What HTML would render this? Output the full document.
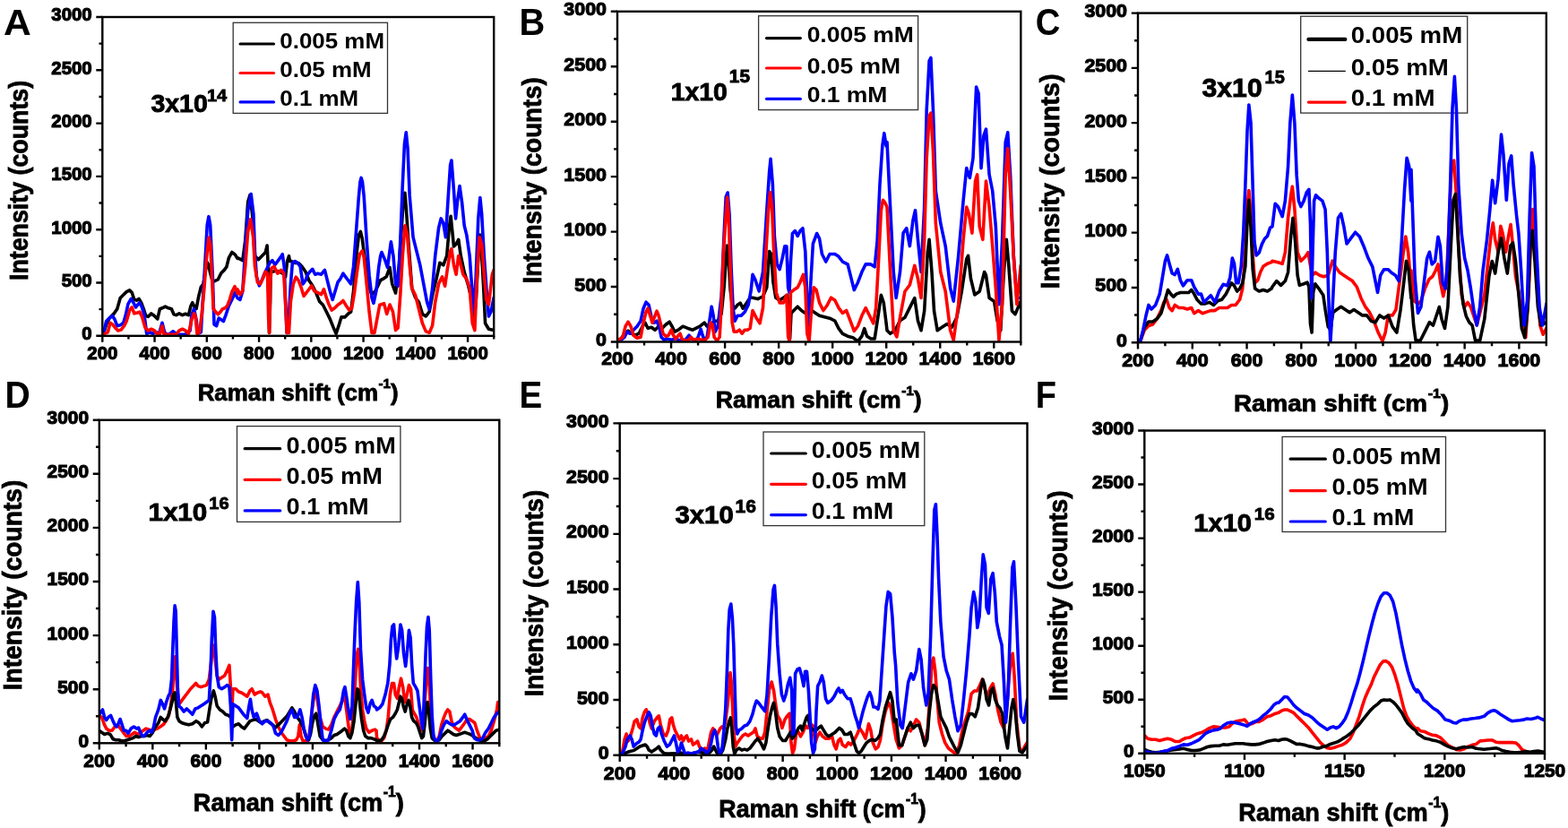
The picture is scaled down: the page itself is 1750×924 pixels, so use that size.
<!DOCTYPE html>
<html><head><meta charset="utf-8"><title>Raman spectra</title>
<style>html,body{margin:0;padding:0;background:#fff;}svg{display:block;}</style></head>
<body><svg width="1750" height="924" viewBox="0 0 1750 924" font-family="Liberation Sans, Arial, sans-serif" font-weight="bold" fill="#000">
<defs><clipPath id="clipA"><rect x="114.3" y="19" width="436.9" height="355.8"/></clipPath><clipPath id="clipB"><rect x="689" y="12.8" width="450.3" height="368.7"/></clipPath><clipPath id="clipC"><rect x="1270" y="14.6" width="455.8" height="367.6"/></clipPath><clipPath id="clipD"><rect x="110.8" y="468.7" width="446.5" height="360.6"/></clipPath><clipPath id="clipE"><rect x="691.7" y="472.4" width="454.8" height="370.3"/></clipPath><clipPath id="clipF"><rect x="1277.3" y="480.5" width="446.7" height="360.3"/></clipPath></defs>
<rect width="1750" height="924" fill="#fff"/>
<rect x="260.2" y="25.3" width="172.3" height="101.1" fill="none" stroke="#333" stroke-width="1.3"/>
<line x1="268.1" y1="49" x2="305.5" y2="49" stroke="#000" stroke-width="3.2" stroke-linecap="round"/>
<line x1="268.1" y1="81.5" x2="305.5" y2="81.5" stroke="#ff0000" stroke-width="3.2" stroke-linecap="round"/>
<line x1="268.1" y1="113.9" x2="305.5" y2="113.9" stroke="#0000ff" stroke-width="3.2" stroke-linecap="round"/>
<text transform="translate(312.26,54.05) scale(1.0554,1)" font-size="24.58">0.005 mM</text>
<text transform="translate(312.26,86.25) scale(1.0554,1)" font-size="24.58">0.05 mM</text>
<text transform="translate(312.26,118.25) scale(1.0554,1)" font-size="24.58">0.1 mM</text>
<text transform="translate(168.45,125.19) scale(1.0093,1)" font-size="28.21" stroke="#000" stroke-width="0.9">3x10</text>
<text transform="translate(230.93,112.6) scale(1.0484,1)" font-size="19.19" stroke="#000" stroke-width="0.8">14</text>
<g clip-path="url(#clipA)" fill="none" stroke-width="3.6" stroke-linejoin="round" stroke-linecap="round">
<polyline stroke="#000" points="115.19,373.25 118.66,361.99 122.12,355.06 127.32,349.87 130.78,344.68 134.24,332.55 137.71,329.09 141.17,325.63 144.63,323.9 147.23,326.49 149.83,334.29 152.42,335.15 155.02,333.42 157.62,337.75 160.22,344.68 162.81,352.47 165.41,353.33 168.87,349.87 172.34,352.47 175.8,355.93 178.4,344.68 181,343.81 184.46,342.08 187.92,343.81 191.39,344.68 193.98,350.74 196.58,351.6 200.04,349.87 203.51,351.6 206.97,350.22 210.43,351.6 213.03,341.21 214.76,337.75 216.49,341.21 219.09,344.68 221.69,330.82 224.29,320.43 226.88,316.97 229.48,301.39 231.21,292.73 232.94,296.19 234.68,304.85 237.27,314.37 239.87,313.51 243.33,311.77 246.8,304.85 250.26,301.39 252.86,297.92 255.45,287.53 258.92,281.47 262.38,284.07 264.98,288.4 265,287.67 268.9,289.62 270.84,290.59 273.77,268.19 276.69,225.33 279.03,217.53 281.56,238.96 284.48,285.72 288.38,289.62 292.27,285.72 296.17,281.82 298.12,274.03 299.29,297.41 300.46,371.44 301.63,336.37 302.02,301.31 303.96,303.25 307.86,302.28 311.76,303.25 315.65,305.2 318.57,309.1 320.52,291.56 322.47,285.72 323.45,291.56 325.39,291.56 329.29,293.51 333.19,293.51 337.08,297.41 340.98,303.25 344.88,312.99 348.77,318.84 352.67,326.63 356.56,336.37 360.46,340.27 364.36,348.06 368.25,355.85 372.15,365.6 375.07,372.41 377.99,363.65 380.92,353.91 384.81,353.91 388.71,350.01 391.63,348.06 394.55,324.68 397.48,287.67 400.4,262.34 402.35,258.45 404.29,266.24 406.24,281.82 409.17,303.25 412.09,320.79 415.01,328.58 418.91,324.68 421.83,318.84 424.68,312.73 427.27,311.43 431.17,308.83 435.06,298.44 437.66,316.62 441.56,327.01 445.45,295.84 448.05,256.88 450.65,217.92 451.95,215.32 453.25,230.91 455.84,269.87 459.74,321.82 463.64,332.21 467.53,337.4 471.43,350.39 475.32,352.99 479.22,347.79 483.12,327.01 487.01,311.43 490.91,293.25 494.81,295.84 498.7,285.45 501.3,254.29 503.12,241.3 504.68,256.88 506.49,275.06 509.09,272.47 511.69,267.27 514.29,285.45 518.18,303.64 522.08,316.62 525.97,332.21 528.57,358.18 531.17,337.4 533.77,288.05 535.84,262.08 537.66,285.45 539.74,321.82 541.56,360.78 545.45,367.27 551.17,368.57"/>
<polyline stroke="#0000ff" points="115.19,373.25 118.66,358.53 122.12,355.06 125.58,352.47 128.18,356.8 130.78,363.72 134.24,362.86 137.71,360.26 140.3,351.6 142.9,339.48 146.36,333.42 148.96,337.75 151.56,342.94 154.16,339.48 155.89,337.75 158.48,342.94 161.08,351.6 163.68,372.38 167.14,370.65 170.61,372.38 174.07,370.65 177.53,372.38 181,360.26 183.59,370.65 186.19,373.25 189.65,372.38 193.12,369.78 196.58,372.38 200.04,373.25 206.97,373.25 212.16,368.92 213.9,351.6 216.49,344.68 219.09,356.8 220.82,372.38 224.29,370.65 226.02,341.21 228.61,297.92 231.21,251.17 232.94,241.65 234.68,251.17 237.27,306.58 239,361.99 241.6,363.72 244.2,355.06 246.8,356.8 249.39,358.53 251.99,351.6 255.45,341.21 258.92,334.29 262.38,326.49 265,332.48 267.92,334.42 270.84,324.68 273.77,277.93 276.69,235.07 280.2,216.56 282.92,238.96 284.48,281.82 286.43,309.1 289.35,318.84 292.27,312.99 295.2,305.2 298.12,299.36 301.04,293.51 303.96,290.59 306.89,295.46 309.81,291.56 312.73,287.67 315.26,283.77 317.21,297.41 318.57,336.37 320.13,371.44 322.47,351.96 324.42,316.89 326.37,293.51 329.29,291.56 332.21,293.51 335.13,297.41 338.06,316.89 340.98,312.99 342.93,307.15 345.85,303.25 348.77,300.33 351.69,306.18 354.62,305.2 358.51,306.18 362.41,301.31 365.33,312.99 368.25,324.68 371.18,334.42 374.1,324.68 377.02,314.94 379.94,311.05 382.86,305.2 385.79,309.1 388.71,312.99 391.63,316.89 394.55,297.41 397.48,258.45 400.4,219.48 401.96,202.92 403.13,198.44 404.49,202.92 406.24,219.48 409.17,268.19 412.09,307.15 415.01,332.48 416.96,338.32 419.88,324.68 422.8,297.41 424.68,285.45 425.97,281.56 429.87,290.65 432.47,298.44 436.36,269.87 438.96,285.45 441.56,316.62 444.16,319.22 446.75,269.87 449.35,204.94 451.43,160.78 453.25,147.79 455.06,165.97 457.14,217.92 461.04,264.68 464.94,280.26 468.83,295.84 472.73,316.62 476.62,337.4 479.22,345.19 482.6,321.82 485.71,285.45 489.61,254.29 492.21,243.9 494.81,249.09 497.4,264.68 500,223.12 502.6,184.16 503.9,178.96 506.49,212.73 508.57,243.9 510.39,225.71 512.99,207.53 515.58,225.71 518.18,251.69 520.78,262.08 524.16,285.45 526.75,321.82 528.83,347.79 531.17,308.83 533.77,243.9 535.84,220.52 537.66,238.7 540.26,285.45 542.86,321.82 545.45,352.99 548.05,347.79 551.17,332.21"/>
<polyline stroke="#ff0000" points="115.19,373.25 120.39,370.65 122.99,360.26 125.58,361.99 129.05,366.32 131.65,368.92 135.11,368.05 138.57,363.72 141.17,358.53 144.63,346.41 147.23,342.94 149.83,349.87 153.29,349 155.89,348.14 158.48,353.33 161.95,365.45 165.41,368.92 168.87,367.19 172.34,368.92 174.94,372.38 178.4,372.38 181,363.72 182.73,372.38 186.19,373.25 196.58,373.25 200.04,368.92 203.51,367.19 206.97,368.92 210.43,372.38 213.9,356.8 216.49,349.87 218.23,353.33 219.96,372.38 222.55,370.65 225.15,351.6 227.75,323.9 230.35,289.26 232.94,265.02 234.68,271.95 236.41,306.58 238.14,344.68 240.74,348.14 243.33,350.74 245.93,348.14 248.53,344.68 251.13,343.81 253.72,341.21 256.32,334.29 258.92,325.63 262.03,319.57 264.98,327.36 265,322.74 267.92,328.58 270.84,324.68 273.77,297.41 276.69,258.45 279.61,244.81 282.53,264.29 284.48,297.41 287.4,314.94 290.33,316.89 293.25,311.05 296.17,303.25 298.51,305.2 299.68,355.85 300.65,371.44 301.63,316.89 302.99,299.36 305.91,297.41 309.81,305.2 313.7,301.31 316.63,305.2 318.57,336.37 320.13,371.44 322.47,371.44 324.42,336.37 327.34,316.89 330.26,309.1 333.19,312.99 336.11,320.79 339.03,330.53 341.95,326.63 344.88,322.74 347.8,318.84 350.72,324.68 354.62,326.63 358.51,328.58 361.43,322.74 364.36,332.48 367.28,340.27 370.2,346.11 374.1,343.19 377.02,340.27 379.94,338.32 382.86,335.4 385.79,340.27 389.68,346.11 392.61,344.17 395.53,326.63 398.45,303.25 401.37,283.77 404.29,279.88 406.24,287.67 409.17,316.89 412.09,348.06 415.01,371.44 417.93,371.44 420.85,355.85 423.78,340.27 424.68,340 428.57,338.7 431.69,350.39 435.06,340 438.44,347.79 441.56,368.57 444.16,365.97 446.75,329.61 449.35,285.45 451.95,251.69 454.55,262.08 457.14,295.84 459.74,321.82 463.64,329.61 467.53,345.19 471.43,360.78 475.32,369.87 479.22,371.17 482.6,363.38 485.71,337.4 489.61,316.62 493.51,308.83 496.62,319.22 499.22,301.04 502.6,280.26 503.9,277.66 506.49,295.84 509.09,306.23 511.69,285.45 514.29,295.84 516.88,306.23 520.78,311.43 524.16,321.82 527.27,360.78 529.87,368.57 532.47,306.23 535.06,264.68 537.66,272.47 540.26,306.23 542.86,334.81 545.45,340 549.35,306.23 551.17,301.04"/>
</g>
<rect x="114.3" y="19" width="436.9" height="355.8" fill="none" stroke="#000" stroke-width="2.4"/>
<path d="M114.3,374.8v7 M172.55,374.8v7 M230.81,374.8v7 M289.06,374.8v7 M347.31,374.8v7 M405.57,374.8v7 M463.82,374.8v7 M522.07,374.8v7 M143.43,374.8v3.8 M201.68,374.8v3.8 M259.93,374.8v3.8 M318.19,374.8v3.8 M376.44,374.8v3.8 M434.69,374.8v3.8 M492.95,374.8v3.8 M551.2,374.8v3.8 M114.3,374.8h-7 M114.3,315.5h-7 M114.3,256.2h-7 M114.3,196.9h-7 M114.3,137.6h-7 M114.3,78.3h-7 M114.3,19h-7 M114.3,345.15h-3.8 M114.3,285.85h-3.8 M114.3,226.55h-3.8 M114.3,167.25h-3.8 M114.3,107.95h-3.8 M114.3,48.65h-3.8" stroke="#000" stroke-width="2.4" fill="none"/>
<text transform="translate(114.3,401.1) scale(1.02,1)" font-size="20" text-anchor="middle" stroke="#000" stroke-width="1.1">200</text>
<text transform="translate(172.55,401.1) scale(1.02,1)" font-size="20" text-anchor="middle" stroke="#000" stroke-width="1.1">400</text>
<text transform="translate(230.81,401.1) scale(1.02,1)" font-size="20" text-anchor="middle" stroke="#000" stroke-width="1.1">600</text>
<text transform="translate(289.06,401.1) scale(1.02,1)" font-size="20" text-anchor="middle" stroke="#000" stroke-width="1.1">800</text>
<text transform="translate(347.31,401.1) scale(1.02,1)" font-size="20" text-anchor="middle" stroke="#000" stroke-width="1.1">1000</text>
<text transform="translate(405.57,401.1) scale(1.02,1)" font-size="20" text-anchor="middle" stroke="#000" stroke-width="1.1">1200</text>
<text transform="translate(463.82,401.1) scale(1.02,1)" font-size="20" text-anchor="middle" stroke="#000" stroke-width="1.1">1400</text>
<text transform="translate(522.07,401.1) scale(1.02,1)" font-size="20" text-anchor="middle" stroke="#000" stroke-width="1.1">1600</text>
<text transform="translate(102.7,379.2) scale(1.02,1)" font-size="20" text-anchor="end" stroke="#000" stroke-width="1.1">0</text>
<text transform="translate(102.7,319.9) scale(1.02,1)" font-size="20" text-anchor="end" stroke="#000" stroke-width="1.1">500</text>
<text transform="translate(102.7,260.6) scale(1.02,1)" font-size="20" text-anchor="end" stroke="#000" stroke-width="1.1">1000</text>
<text transform="translate(102.7,201.3) scale(1.02,1)" font-size="20" text-anchor="end" stroke="#000" stroke-width="1.1">1500</text>
<text transform="translate(102.7,142) scale(1.02,1)" font-size="20" text-anchor="end" stroke="#000" stroke-width="1.1">2000</text>
<text transform="translate(102.7,82.7) scale(1.02,1)" font-size="20" text-anchor="end" stroke="#000" stroke-width="1.1">2500</text>
<text transform="translate(102.7,23.4) scale(1.02,1)" font-size="20" text-anchor="end" stroke="#000" stroke-width="1.1">3000</text>
<g transform="translate(220.67,446.9) scale(1.0353,1)" stroke="#000" stroke-width="0.8"><text x="0" y="0" font-size="25">Raman shift (cm</text><text x="194.98" y="-14" font-size="14.5">-1</text><text x="207.88" y="0" font-size="25">)</text></g>
<g transform="translate(31.4,311.2) rotate(-90) scale(0.9223,1)" stroke="#000" stroke-width="0.8"><text x="-1.95" y="0" font-size="29.04">Intensity (counts)</text></g>
<text transform="translate(3.93,39.2) scale(1.0253,1)" font-size="41.57">A</text>
<rect x="846.6" y="17.7" width="178" height="104.9" fill="none" stroke="#333" stroke-width="1.3"/>
<line x1="855.5" y1="42.6" x2="893.3" y2="42.6" stroke="#000" stroke-width="3.2" stroke-linecap="round"/>
<line x1="855.5" y1="76" x2="893.3" y2="76" stroke="#ff0000" stroke-width="3.2" stroke-linecap="round"/>
<line x1="855.5" y1="110.3" x2="893.3" y2="110.3" stroke="#0000ff" stroke-width="3.2" stroke-linecap="round"/>
<text transform="translate(900.64,47.35) scale(1.0777,1)" font-size="24.58">0.005 mM</text>
<text transform="translate(900.64,81.55) scale(1.0777,1)" font-size="24.58">0.05 mM</text>
<text transform="translate(900.64,114.25) scale(1.0777,1)" font-size="24.58">0.1 mM</text>
<text transform="translate(748.71,112.12) scale(1.0086,1)" font-size="28.11" stroke="#000" stroke-width="0.9">1x10</text>
<text transform="translate(813.79,92.41) scale(1.0786,1)" font-size="19.34" stroke="#000" stroke-width="0.8">15</text>
<g clip-path="url(#clipB)" fill="none" stroke-width="3.6" stroke-linejoin="round" stroke-linecap="round">
<polyline stroke="#000" points="689,380.22 693.01,378.21 697.01,372.21 701.02,369.2 705.02,372.21 709.03,374.21 713.03,372.21 717.04,364.2 720.04,360.19 723.05,366.2 727.05,365.2 731.06,368.2 735.06,364.2 739.06,366.2 743.07,362.19 747.07,359.19 750.08,364.2 753.08,370.2 757.09,368.2 762.09,364.2 767.1,366.2 773.11,368.2 777.11,366.2 781.12,364.2 786.12,360.19 789.12,364.2 793.13,362.19 797.13,358.19 801.14,358.19 805.14,350.18 808.15,320.14 810.15,290.11 811.55,274.09 813.15,290.11 815.16,324.15 817.16,340.17 820.16,344.17 823.17,340.17 826.17,338.17 829.17,344.17 833.18,338.17 837.18,332.16 840,332.19 845.73,333.62 851.47,330.75 855.77,320.72 858.64,280.57 860.65,283.44 862.94,314.98 865.81,332.19 870.11,335.05 874.41,332.19 878.71,329.32 880.14,349.39 881.58,378.06 883.01,349.39 885.88,346.52 890.18,342.22 894.48,346.52 898.78,349.39 901.65,349.39 905.95,346.52 910.25,349.39 914.55,352.26 920.29,353.69 926.02,355.13 931.76,357.99 936.06,366.59 940.36,372.33 946.09,375.2 951.83,376.63 957.56,380.93 961.86,375.2 964.73,366.59 967.6,375.2 971.9,378.06 976.2,378.06 980.5,349.39 983.37,329.32 986.24,337.92 989.1,360.86 990,368.73 993.62,372.35 999.05,368.73 1004.49,357.86 1009.92,354.24 1015.35,343.37 1020.79,332.51 1024.41,357.86 1028.03,368.73 1031.65,346.99 1035.27,281.8 1037.08,267.31 1039.98,303.53 1042.52,346.99 1046.14,368.73 1051.57,365.1 1057,361.48 1062.44,365.1 1067.87,354.24 1073.3,325.26 1078.74,289.04 1080.55,285.42 1083.44,310.78 1087.79,328.88 1093.22,325.26 1098.66,303.53 1100.47,307.15 1104.09,332.51 1109.52,336.13 1113.14,357.86 1116.77,368.73 1120.39,303.53 1123.29,267.31 1125.82,296.29 1129.44,346.99 1133.06,350.62 1139.22,336.13"/>
<polyline stroke="#0000ff" points="689,380.22 693.01,379.22 697.01,376.21 700.02,370.2 703.02,372.21 707.03,368.2 711.03,364.2 715.04,358.19 718.04,344.17 721.04,337.16 724.05,340.17 727.05,354.19 730.05,360.19 733.06,358.19 736.06,366.2 738.06,376.21 741.07,379.22 745.07,378.21 749.08,379.22 753.08,378.21 757.09,379.22 761.09,380.22 765.1,379.22 769.1,374.21 772.1,378.21 776.11,380.22 779.11,376.21 782.12,367.2 784.12,374.21 786.12,379.22 789.12,376.21 792.13,356.19 794.13,342.17 796.13,352.18 798.14,370.2 801.14,364.2 805.14,330.16 808.15,260.07 810.15,220.02 812.15,215.02 814.15,240.05 816.16,300.12 818.16,344.17 820.16,358.19 823.17,352.18 827.17,352.18 831.18,348.18 835.18,340.17 838.18,324.15 840,306.38 842.87,312.11 847.17,325.02 851.47,303.51 855.77,234.7 858.64,191.68 860.07,177.35 862.37,206.02 864.37,263.37 867.24,294.91 870.11,300.65 872.97,289.18 875.84,274.84 877.85,274.84 879.57,320.72 881,326.45 882.44,292.04 884.44,260.5 887.31,257.63 890.18,263.37 893.05,257.63 895.91,254.77 898.78,280.57 900.79,335.05 902.51,363.73 904.52,320.72 907.38,271.97 911.68,260.5 914.55,266.24 917.42,283.44 921.72,292.04 926.02,283.44 931.76,283.44 936.06,286.31 940.36,292.04 946.09,294.91 950.39,312.11 953.26,323.58 957.56,314.98 961.86,303.51 966.16,294.91 971.9,294.91 976.2,297.78 979.07,269.1 981.94,206.02 984.8,163.01 986.81,148.67 989.1,163.01 990,158.66 993.62,231.09 997.24,303.53 1000.14,332.51 1004.49,303.53 1008.11,260.07 1011.73,254.64 1015.35,274.56 1018.98,245.58 1021.51,234.72 1024.41,267.31 1028.03,303.53 1031.65,231.09 1034.19,122.44 1037.08,68.11 1038.9,64.49 1041.43,122.44 1044.33,212.98 1049.76,249.2 1055.19,274.56 1060.63,321.64 1064.25,336.13 1069.68,285.42 1075.11,223.85 1078.74,187.63 1082.36,198.5 1085.98,176.77 1089.6,97.08 1092.14,104.33 1095.03,187.63 1097.93,151.41 1100.47,144.17 1104.09,194.88 1107.71,212.98 1111.33,252.83 1114.95,339.75 1118.58,267.31 1122.2,158.66 1124.73,147.79 1127.63,194.88 1131.25,285.42 1134.88,332.51 1139.22,332.51"/>
<polyline stroke="#ff0000" points="689,380.22 695.01,376.21 698.02,364.2 701.02,359.19 704.02,364.2 707.03,374.21 711.03,377.21 715.04,376.21 718.04,360.19 721.04,348.18 723.05,344.17 725.05,350.18 728.05,360.19 731.06,352.18 733.06,347.18 735.06,352.18 737.06,360.19 740.07,372.21 743.07,375.21 746.07,374.21 749.08,368.2 751.08,373.21 754.08,378.21 757.09,374.21 759.09,372.21 761.09,378.21 765.1,380.22 769.1,379.22 771.1,376.21 774.11,379.22 779.11,378.21 783.12,379.22 787.12,379.22 790.13,376.21 793.13,360.19 795.13,362.19 797.13,376.21 800.14,380.22 803.14,376.21 805.14,340.17 807.55,280.1 809.55,250.06 811.55,220.02 813.15,240.05 815.16,300.12 817.16,360.19 819.16,370.2 822.16,370.2 825.17,368.2 828.17,372.21 831.18,368.2 834.18,368.2 837.18,366.2 840,346.52 844.3,355.13 848.03,360.86 851.47,343.66 854.34,292.04 857.2,240.43 859.5,214.62 861.51,228.96 863.51,277.71 866.38,326.45 870.11,337.92 874.41,337.92 877.85,329.32 879.57,375.2 881,380.93 882.44,326.45 885.88,323.58 890.18,320.72 893.05,314.98 896.49,306.38 898.78,320.72 900.79,372.33 903.08,380.93 905.38,349.39 908.24,320.72 911.11,323.58 914.55,337.92 918.85,346.52 923.15,340.79 927.46,332.19 931.76,335.05 936.06,343.66 940.36,349.39 944.66,346.52 948.96,357.99 953.26,369.46 957.56,363.73 961.86,352.26 966.16,343.66 970.47,352.26 974.77,360.86 977.63,343.66 980.5,292.04 983.37,234.7 985.38,223.23 987.67,226.09 990,231.09 993.62,303.53 997.24,368.73 1000.87,375.97 1004.49,354.24 1009.92,325.26 1015.35,318.02 1020.79,296.29 1024.41,310.78 1028.03,332.51 1031.65,267.31 1034.19,176.77 1037.08,129.68 1038.9,126.06 1041.43,169.52 1044.33,249.2 1049.76,303.53 1055.19,325.26 1060.63,368.73 1064.25,379.59 1069.68,339.75 1075.11,267.31 1078.74,231.09 1081.27,238.34 1084.89,260.07 1088.52,202.12 1090.69,194.88 1093.22,252.83 1096.85,267.31 1100.47,202.12 1104.09,231.09 1107.71,274.56 1111.33,321.64 1114.95,379.59 1118.58,339.75 1122.2,194.88 1124.73,165.9 1127.63,212.98 1131.25,285.42 1134.88,339.75 1139.22,296.29"/>
</g>
<rect x="689" y="12.8" width="450.3" height="368.7" fill="none" stroke="#000" stroke-width="2.4"/>
<path d="M689,381.5v7.25 M749.04,381.5v7.25 M809.08,381.5v7.25 M869.12,381.5v7.25 M929.16,381.5v7.25 M989.2,381.5v7.25 M1049.24,381.5v7.25 M1109.28,381.5v7.25 M719.02,381.5v3.94 M779.06,381.5v3.94 M839.1,381.5v3.94 M899.14,381.5v3.94 M959.18,381.5v3.94 M1019.22,381.5v3.94 M1079.26,381.5v3.94 M1139.3,381.5v3.94 M689,381.5h-7.25 M689,320.05h-7.25 M689,258.6h-7.25 M689,197.15h-7.25 M689,135.7h-7.25 M689,74.25h-7.25 M689,12.8h-7.25 M689,350.77h-3.94 M689,289.32h-3.94 M689,227.88h-3.94 M689,166.42h-3.94 M689,104.98h-3.94 M689,43.53h-3.94" stroke="#000" stroke-width="2.4" fill="none"/>
<text transform="translate(689,406.95) scale(1.02,1)" font-size="21" text-anchor="middle" stroke="#000" stroke-width="1.1">200</text>
<text transform="translate(749.04,406.95) scale(1.02,1)" font-size="21" text-anchor="middle" stroke="#000" stroke-width="1.1">400</text>
<text transform="translate(809.08,406.95) scale(1.02,1)" font-size="21" text-anchor="middle" stroke="#000" stroke-width="1.1">600</text>
<text transform="translate(869.12,406.95) scale(1.02,1)" font-size="21" text-anchor="middle" stroke="#000" stroke-width="1.1">800</text>
<text transform="translate(929.16,406.95) scale(1.02,1)" font-size="21" text-anchor="middle" stroke="#000" stroke-width="1.1">1000</text>
<text transform="translate(989.2,406.95) scale(1.02,1)" font-size="21" text-anchor="middle" stroke="#000" stroke-width="1.1">1200</text>
<text transform="translate(1049.24,406.95) scale(1.02,1)" font-size="21" text-anchor="middle" stroke="#000" stroke-width="1.1">1400</text>
<text transform="translate(1109.28,406.95) scale(1.02,1)" font-size="21" text-anchor="middle" stroke="#000" stroke-width="1.1">1600</text>
<text transform="translate(676.99,386.07) scale(1.02,1)" font-size="21" text-anchor="end" stroke="#000" stroke-width="1.1">0</text>
<text transform="translate(676.99,324.62) scale(1.02,1)" font-size="21" text-anchor="end" stroke="#000" stroke-width="1.1">500</text>
<text transform="translate(676.99,263.17) scale(1.02,1)" font-size="21" text-anchor="end" stroke="#000" stroke-width="1.1">1000</text>
<text transform="translate(676.99,201.72) scale(1.02,1)" font-size="21" text-anchor="end" stroke="#000" stroke-width="1.1">1500</text>
<text transform="translate(676.99,140.27) scale(1.02,1)" font-size="21" text-anchor="end" stroke="#000" stroke-width="1.1">2000</text>
<text transform="translate(676.99,78.82) scale(1.02,1)" font-size="21" text-anchor="end" stroke="#000" stroke-width="1.1">2500</text>
<text transform="translate(676.99,17.37) scale(1.02,1)" font-size="21" text-anchor="end" stroke="#000" stroke-width="1.1">3000</text>
<g transform="translate(798.72,455) scale(1.0456,1)" stroke="#000" stroke-width="0.8"><text x="0" y="0" font-size="25.44">Raman shift (cm</text><text x="198.38" y="-14.24" font-size="14.75">-1</text><text x="211.5" y="0" font-size="25.44">)</text></g>
<g transform="translate(604.4,314.6) rotate(-90) scale(0.9379,1)" stroke="#000" stroke-width="0.8"><text x="-1.97" y="0" font-size="29.47">Intensity (counts)</text></g>
<text transform="translate(579.53,39.4) scale(0.9516,1)" font-size="41.86">B</text>
<rect x="1451.7" y="18.2" width="186" height="107.9" fill="none" stroke="#333" stroke-width="1.3"/>
<line x1="1460.4" y1="43.9" x2="1501.3" y2="43.9" stroke="#000" stroke-width="4.2" stroke-linecap="round"/>
<line x1="1460.4" y1="79.4" x2="1501.3" y2="79.4" stroke="#000" stroke-width="1.2" stroke-linecap="round"/>
<line x1="1460.4" y1="114.1" x2="1501.3" y2="114.1" stroke="#ff0000" stroke-width="3.2" stroke-linecap="round"/>
<text transform="translate(1507.69,48.35) scale(1.0943,1)" font-size="25.28">0.005 mM</text>
<text transform="translate(1507.69,83.85) scale(1.0943,1)" font-size="25.28">0.05 mM</text>
<text transform="translate(1507.69,118.45) scale(1.0943,1)" font-size="25.28">0.1 mM</text>
<text transform="translate(1341.5,107.77) scale(1.0063,1)" font-size="30.04" stroke="#000" stroke-width="0.9">3x10</text>
<text transform="translate(1411.54,93.31) scale(1.0255,1)" font-size="19.48" stroke="#000" stroke-width="0.8">15</text>
<g clip-path="url(#clipC)" fill="none" stroke-width="3.6" stroke-linejoin="round" stroke-linecap="round">
<polyline stroke="#ff0000" points="1272.71,380.52 1277.33,368.19 1281.95,363.56 1286.58,362.02 1291.2,355.86 1295.83,346.61 1298.91,337.36 1301.99,334.28 1305.07,343.53 1308.16,346.61 1311.24,340.44 1315.86,343.53 1320.49,343.53 1325.11,345.07 1329.73,343.53 1332.82,349.69 1337.44,346.61 1342.07,349.69 1346.69,348.15 1351.31,346.61 1355.94,346.61 1360.56,343.53 1365.18,343.53 1369.81,343.53 1374.43,340.44 1379.06,340.44 1383.68,334.28 1386.76,321.95 1389.85,281.87 1392,229.47 1393.85,212.52 1396.01,238.72 1398.17,284.96 1400.64,315.78 1403.72,312.7 1406.8,303.45 1409.88,297.29 1414.51,294.2 1419.13,292.66 1420,291.21 1426.39,292.81 1431.18,294.41 1434.37,281.63 1437.57,243.31 1440.76,217.75 1442.36,208.17 1444.91,233.72 1448.11,281.63 1451.94,291.21 1456.73,286.42 1459.92,281.63 1462.16,294.41 1464.71,307.18 1467.91,303.99 1472.7,307.18 1477.49,308.78 1482.28,307.18 1487.07,291.21 1490.27,297.6 1495.06,303.99 1499.85,307.18 1504.64,310.38 1509.43,313.57 1514.22,319.96 1519.01,332.73 1523.8,342.32 1528.59,348.7 1533.38,358.28 1538.17,371.06 1542.96,380.64 1546.16,371.06 1549.35,351.9 1554.14,351.9 1557.98,345.51 1562.13,313.57 1566.28,281.63 1568.83,264.07 1571.71,281.63 1574.9,319.96 1575,301.69 1578.41,335.76 1582.5,339.17 1585.9,335.76 1590.33,322.13 1594.76,311.91 1598.85,308.5 1602.26,301.69 1604.98,294.87 1607.71,315.32 1610.78,330.65 1614.18,315.32 1617.59,240.36 1620.32,182.44 1622.7,179.03 1625.09,213.1 1627.81,274.43 1631.22,328.94 1634.63,342.57 1638.03,337.46 1641.44,342.57 1644.85,352.79 1648.25,363.02 1651.66,349.39 1656.77,328.94 1660.86,291.47 1664.27,260.8 1666.31,248.88 1668.7,267.61 1672.1,281.24 1674.83,252.28 1677.21,260.8 1680.62,281.24 1684.03,260.8 1686.07,250.58 1688.46,274.43 1691.52,308.5 1694.93,325.54 1699.36,363.02 1702.77,376.64 1706.18,325.54 1708.9,257.39 1710.6,233.54 1712.99,260.8 1715.72,308.5 1718.78,363.02 1722.19,373.24 1725.94,366.42"/>
<polyline stroke="#000" points="1272.71,380.52 1277.33,365.1 1281.95,358.94 1286.58,358.94 1291.2,355.86 1295.83,349.69 1300.45,334.28 1303.53,323.49 1306.62,328.11 1309.7,331.2 1312.78,328.11 1317.4,326.57 1322.03,326.57 1326.65,326.57 1329.73,323.49 1332.82,328.11 1335.9,334.28 1340.52,338.9 1345.15,338.9 1349.77,337.36 1354.4,340.44 1359.02,335.82 1363.64,334.28 1368.27,328.11 1371.35,321.95 1374.43,315.78 1377.52,318.87 1380.6,325.03 1383.68,321.95 1386.76,315.78 1389.85,297.29 1392,247.97 1393.85,223.3 1396.01,254.13 1398.17,300.37 1400.64,321.95 1405.26,325.03 1409.88,323.49 1414.51,325.03 1419.13,321.95 1420,319.96 1424.79,313.57 1429.58,318.36 1434.37,313.57 1437.57,303.99 1440.76,262.47 1443,243.31 1445.55,268.86 1448.11,307.18 1450.34,318.36 1455.13,316.76 1458.97,315.17 1460.88,319.96 1462.48,361.48 1464.08,371.06 1465.67,326.35 1467.91,316.76 1472.7,323.15 1476.85,329.54 1479.09,345.51 1482.28,364.67 1484.84,367.87 1487.71,348.7 1491.86,345.51 1496.65,342.32 1501.44,345.51 1506.23,348.7 1511.03,345.51 1515.82,348.7 1520.61,351.9 1525.4,351.9 1530.19,358.28 1534.98,359.88 1539.77,351.9 1544.56,355.09 1549.35,351.9 1554.14,364.67 1558.93,371.06 1563.09,345.51 1566.92,313.57 1569.47,291.21 1572.03,300.8 1574.9,332.73 1575,328.94 1577.73,363.02 1580.11,380.05 1585.22,380.05 1590.33,369.83 1595.44,359.61 1599.53,363.02 1602.94,352.79 1606.35,342.57 1609.07,356.2 1612.48,366.42 1615.89,342.57 1619.29,274.43 1622.02,223.32 1624.4,216.51 1626.79,257.39 1629.51,308.5 1632.92,339.17 1636.33,352.79 1639.74,359.61 1643.14,363.02 1646.55,380.05 1651.66,380.05 1656.77,356.2 1661.88,308.5 1665.29,291.47 1668.7,305.09 1672.1,281.24 1675.51,265.91 1678.92,288.06 1682.33,305.09 1685.73,274.43 1688.46,271.02 1691.52,291.47 1694.93,328.94 1698.34,366.42 1701.75,376.64 1705.15,342.57 1707.88,274.43 1710.26,257.39 1712.99,291.47 1716.4,342.57 1719.8,363.02 1725.94,359.61"/>
<polyline stroke="#0000ff" points="1272.71,380.52 1275.79,368.19 1278.87,352.77 1281.95,340.44 1285.04,345.07 1289.66,340.44 1294.28,328.11 1297.37,309.62 1300.45,291.12 1302.61,284.96 1305.07,294.2 1308.16,304.99 1311.24,306.54 1314.32,300.37 1317.4,312.7 1320.49,318.87 1325.11,312.7 1329.73,312.7 1332.82,320.41 1337.44,328.11 1340.52,328.11 1343.61,337.36 1346.69,334.28 1351.31,329.65 1355.94,337.36 1360.56,325.03 1365.18,317.32 1369.81,318.87 1372.89,309.62 1375.36,288.04 1377.52,294.2 1379.67,315.78 1382.14,315.78 1385.22,297.29 1387.69,260.3 1389.85,207.89 1392,146.24 1393.85,116.95 1396.01,136.99 1398.17,207.89 1400.02,269.54 1402.18,284.96 1405.26,281.87 1408.34,272.63 1411.42,266.46 1414.51,263.38 1417.59,254.13 1420,252.89 1423.19,227.34 1426.39,230.53 1431.18,241.71 1434.37,224.14 1437.57,185.82 1439.8,137.91 1442.36,105.97 1444.91,137.91 1447.15,195.4 1449.38,224.14 1451.94,230.53 1455.13,224.14 1458.33,214.56 1460.88,211.37 1462.48,249.69 1463.76,332.73 1465.03,281.63 1466.63,224.14 1468.55,217.75 1471.74,220.95 1475.89,224.14 1479.09,233.72 1481.32,281.63 1483.24,345.51 1484.84,382.24 1487.07,345.51 1490.27,281.63 1493.46,243.31 1496.65,238.51 1499.85,252.89 1503.04,272.05 1507.83,265.66 1512.62,259.27 1517.41,264.07 1522.2,275.24 1526.99,288.02 1531.79,297.6 1534.98,313.57 1537.53,326.35 1540.73,307.18 1544.56,300.8 1549.35,300.8 1552.55,303.99 1557.34,307.18 1561.17,313.57 1564.36,268.86 1567.56,211.37 1570.11,176.23 1572.67,185.82 1574.9,224.14 1575,189.25 1576.7,240.36 1579.09,308.5 1582.5,349.39 1585.9,342.57 1589.31,315.32 1592.72,288.06 1595.44,281.24 1598.17,294.87 1601.58,291.47 1604.98,264.21 1607.37,274.43 1610.09,315.32 1613.16,322.13 1615.89,288.06 1618.61,206.29 1621,121.11 1623.38,85.33 1625.43,121.11 1627.81,206.29 1631.22,260.8 1634.63,288.06 1638.03,301.69 1641.44,322.13 1644.85,345.98 1648.25,363.02 1651.66,342.57 1655.07,301.69 1659.5,267.61 1662.9,233.54 1665.63,201.18 1668.7,226.73 1672.1,199.47 1675.51,150.07 1677.9,172.21 1681.3,223.32 1684.03,182.44 1686.75,173.92 1689.14,206.29 1692.55,240.36 1694.93,260.8 1697.66,301.69 1701.06,363.02 1704.47,335.76 1707.2,240.36 1709.58,170.51 1711.97,185.84 1714.69,274.43 1718.1,342.57 1721.51,363.02 1725.94,339.17"/>
</g>
<rect x="1270" y="14.6" width="455.8" height="367.6" fill="none" stroke="#000" stroke-width="2.4"/>
<path d="M1270,382.2v7.23 M1330.77,382.2v7.23 M1391.55,382.2v7.23 M1452.32,382.2v7.23 M1513.09,382.2v7.23 M1573.87,382.2v7.23 M1634.64,382.2v7.23 M1695.41,382.2v7.23 M1300.39,382.2v3.93 M1361.16,382.2v3.93 M1421.93,382.2v3.93 M1482.71,382.2v3.93 M1543.48,382.2v3.93 M1604.25,382.2v3.93 M1665.03,382.2v3.93 M1725.8,382.2v3.93 M1270,382.2h-7.23 M1270,320.93h-7.23 M1270,259.67h-7.23 M1270,198.4h-7.23 M1270,137.13h-7.23 M1270,75.87h-7.23 M1270,14.6h-7.23 M1270,351.57h-3.93 M1270,290.3h-3.93 M1270,229.03h-3.93 M1270,167.77h-3.93 M1270,106.5h-3.93 M1270,45.23h-3.93" stroke="#000" stroke-width="2.4" fill="none"/>
<text transform="translate(1270,409.37) scale(1.02,1)" font-size="21" text-anchor="middle" stroke="#000" stroke-width="1.1">200</text>
<text transform="translate(1330.77,409.37) scale(1.02,1)" font-size="21" text-anchor="middle" stroke="#000" stroke-width="1.1">400</text>
<text transform="translate(1391.55,409.37) scale(1.02,1)" font-size="21" text-anchor="middle" stroke="#000" stroke-width="1.1">600</text>
<text transform="translate(1452.32,409.37) scale(1.02,1)" font-size="21" text-anchor="middle" stroke="#000" stroke-width="1.1">800</text>
<text transform="translate(1513.09,409.37) scale(1.02,1)" font-size="21" text-anchor="middle" stroke="#000" stroke-width="1.1">1000</text>
<text transform="translate(1573.87,409.37) scale(1.02,1)" font-size="21" text-anchor="middle" stroke="#000" stroke-width="1.1">1200</text>
<text transform="translate(1634.64,409.37) scale(1.02,1)" font-size="21" text-anchor="middle" stroke="#000" stroke-width="1.1">1400</text>
<text transform="translate(1695.41,409.37) scale(1.02,1)" font-size="21" text-anchor="middle" stroke="#000" stroke-width="1.1">1600</text>
<text transform="translate(1258.03,386.76) scale(1.02,1)" font-size="21" text-anchor="end" stroke="#000" stroke-width="1.1">0</text>
<text transform="translate(1258.03,325.49) scale(1.02,1)" font-size="21" text-anchor="end" stroke="#000" stroke-width="1.1">500</text>
<text transform="translate(1258.03,264.23) scale(1.02,1)" font-size="21" text-anchor="end" stroke="#000" stroke-width="1.1">1000</text>
<text transform="translate(1258.03,202.96) scale(1.02,1)" font-size="21" text-anchor="end" stroke="#000" stroke-width="1.1">1500</text>
<text transform="translate(1258.03,141.69) scale(1.02,1)" font-size="21" text-anchor="end" stroke="#000" stroke-width="1.1">2000</text>
<text transform="translate(1258.03,80.43) scale(1.02,1)" font-size="21" text-anchor="end" stroke="#000" stroke-width="1.1">2500</text>
<text transform="translate(1258.03,19.16) scale(1.02,1)" font-size="21" text-anchor="end" stroke="#000" stroke-width="1.1">3000</text>
<g transform="translate(1376.94,459.2) scale(1.0564,1)" stroke="#000" stroke-width="0.8"><text x="0" y="0" font-size="26.31">Raman shift (cm</text><text x="205.19" y="-14.73" font-size="15.26">-1</text><text x="218.75" y="0" font-size="26.31">)</text></g>
<g transform="translate(1181.6,320.7) rotate(-90) scale(0.9551,1)" stroke="#000" stroke-width="0.8"><text x="-2.02" y="0" font-size="30.17">Intensity (counts)</text></g>
<text transform="translate(1155.73,38.98) scale(0.9174,1)" font-size="41.67">C</text>
<rect x="264.5" y="475.6" width="182.4" height="106.8" fill="none" stroke="#333" stroke-width="1.3"/>
<line x1="273.2" y1="500.7" x2="312.7" y2="500.7" stroke="#000" stroke-width="3.2" stroke-linecap="round"/>
<line x1="273.2" y1="535.3" x2="312.7" y2="535.3" stroke="#ff0000" stroke-width="3.2" stroke-linecap="round"/>
<line x1="273.2" y1="569.9" x2="312.7" y2="569.9" stroke="#0000ff" stroke-width="3.2" stroke-linecap="round"/>
<text transform="translate(319.61,505.94) scale(1.0453,1)" font-size="25.99">0.005 mM</text>
<text transform="translate(319.61,540.04) scale(1.0453,1)" font-size="25.99">0.05 mM</text>
<text transform="translate(319.61,573.94) scale(1.0453,1)" font-size="25.99">0.1 mM</text>
<text transform="translate(165.43,581.32) scale(1.0434,1)" font-size="28.39" stroke="#000" stroke-width="0.9">1x10</text>
<text transform="translate(233.23,568.01) scale(1.0484,1)" font-size="19.21" stroke="#000" stroke-width="0.8">16</text>
<g clip-path="url(#clipD)" fill="none" stroke-width="3.6" stroke-linejoin="round" stroke-linecap="round">
<polyline stroke="#ff0000" points="110.7,798.31 113.44,800.42 116.61,808.87 118.72,813.09 121.89,815.2 125.05,815.2 128.22,810.98 131.39,808.87 134.55,813.09 137.72,817.31 140.88,821.53 144.05,821.53 147.22,819.42 150.38,817.31 153.55,819.42 156.72,817.31 159.88,815.2 163.05,813.09 166.21,814.14 169.38,815.2 172.55,814.14 175.71,813.09 178.88,810.98 182.04,808.87 185.21,804.64 188.38,798.31 190.49,787.76 192.6,770.87 194.08,745.54 195.13,732.88 196.19,745.54 197.88,770.87 199.99,785.65 203.15,781.42 206.32,777.2 209.49,772.98 212.65,768.76 215.82,765.59 218.56,762.43 221.09,765.59 224.26,766.65 227.43,765.59 230.59,764.54 233.34,758.21 235.45,741.32 236.93,724.43 238.4,720.21 240.09,734.99 242.2,753.98 244.31,758.21 247.48,756.09 250.65,753.98 253.81,747.65 255.92,742.37 257.4,766.65 259.09,787.76 260,768.76 263.17,768.76 266.33,771.93 269.5,772.98 272.66,775.09 275.83,777.2 279,770.87 281.11,768.76 284.27,775.09 287.44,772.98 290.61,771.93 292.72,772.98 295.88,777.2 299.05,775.09 301.16,783.54 304.33,791.98 307.49,802.53 310.66,810.98 313.83,817.31 316.99,821.53 320.16,825.75 323.32,826.81 327.55,826.81 330.71,825.75 332.82,821.53 334.3,808.87 335.99,821.53 338.1,826.81 341.27,826.81 344.43,825.75 346.54,808.87 348.65,789.87 350.77,775.09 352.45,768.76 354.56,783.54 357.1,800.42 360.26,810.98 363.43,813.09 366.6,814.14 369.76,808.87 372.93,800.42 376.09,794.09 379.26,787.76 381.37,783.54 383.48,777.2 384.96,779.31 386.65,791.98 388.76,808.87 390.87,821.53 392.98,813.09 395.09,787.76 396.78,756.09 398.26,730.77 399.74,724.43 401,734.99 402.48,766.65 404.59,791.98 406.7,804.64 408.81,813.09 411.98,817.31 415.15,815.2 418.31,814.14 420,815.2 420.55,823.64 422.66,825.75 425.83,826.81 428.58,823.64 431.11,815.2 433.22,800.42 435.33,775.09 437.44,762.43 439.55,762.43 441.24,775.09 443.35,779.31 445.46,766.65 447.57,757.15 449.68,766.65 451.79,783.54 454.33,775.09 456.44,764.54 458.55,768.76 460.24,791.98 462.35,796.2 464.88,800.42 467.41,808.87 470.16,815.2 472.27,808.87 474.38,779.31 476.49,749.76 477.55,745.54 478.81,758.21 480.71,791.98 482.82,817.31 484.93,825.75 487.68,826.81 490.21,821.53 492.74,808.87 495.49,800.42 497.6,795.15 499.71,791.98 501.82,794.09 503.93,804.64 506.68,810.98 509.21,813.09 512.37,815.2 515.54,810.98 518.71,806.75 521.45,802.53 523.98,802.53 527.15,804.64 529.89,806.75 532.43,815.2 535.59,823.64 538.76,825.75 541.93,823.64 545.09,821.53 548.26,815.2 551.42,804.64 554.59,791.98 555.65,783.54 557.34,785.65"/>
<polyline stroke="#000" points="110.7,815.2 113.44,817.31 116.61,819.42 119.78,818.36 122.94,819.42 126.11,824.7 129.27,825.75 132.44,825.75 135.61,826.81 138.77,826.81 141.94,825.75 145.11,824.7 148.27,823.64 151.44,821.53 154.6,822.59 157.77,821.53 160.94,821.53 164.1,820.47 167.27,821.53 170.44,817.31 173.6,810.98 176.77,806.75 179.3,800.42 181.41,802.53 184.16,804.64 187.32,800.42 189.85,791.98 191.97,783.54 193.65,775.09 195.13,772.98 196.4,783.54 197.88,800.42 199.99,804.64 203.15,806.75 206.32,807.81 210.54,808.87 214.76,807.81 218.98,804.64 222.15,806.75 225.32,810.98 228.48,806.75 231.65,805.7 233.76,791.98 235.87,779.31 238.4,770.87 240.09,777.2 242.2,787.76 245.37,791.98 248.54,794.09 251.7,797.26 254.87,798.31 257.4,800.42 260,810.98 263.17,808.87 266.33,807.81 269.5,810.98 272.66,813.09 275.83,808.87 279,804.64 282.16,803.59 285.33,802.53 288.5,804.64 291.66,806.75 294.83,804.64 297.99,803.59 301.16,806.75 304.33,808.87 307.49,812.03 310.66,808.87 313.83,805.7 316.99,802.53 320.16,799.37 323.32,794.09 325.86,789.87 328.6,794.09 331.77,800.42 334.93,804.64 338.1,810.98 340.21,817.31 342.32,823.64 344.43,825.75 346.54,819.42 348.65,806.75 351.19,798.31 352.88,796.2 354.99,808.87 357.1,821.53 360.26,825.75 363.43,826.81 366.6,825.75 369.76,823.64 372.93,820.47 376.09,819.42 379.26,817.31 382.01,815.2 384.54,813.09 386.65,815.2 388.76,821.53 390.87,823.64 392.98,817.31 395.09,804.64 397.2,783.54 398.89,768.76 400.37,770.87 401.85,787.76 403.54,802.53 405.65,815.2 407.76,821.53 410.92,823.64 414.09,823.64 417.26,824.7 420,825.75 420.55,826.81 422.66,826.81 425.83,825.75 428.58,821.53 431.11,815.2 433.22,808.87 435.75,802.53 438.5,800.42 441.24,796.2 443.35,791.98 445.46,783.54 446.94,777.2 448.42,779.31 450.11,787.76 452.22,794.09 454.33,785.65 456.02,781.42 457.7,787.76 459.6,800.42 461.72,804.64 464.46,806.75 466.57,810.98 468.68,817.31 470.79,823.64 472.48,821.53 474.38,804.64 475.86,787.76 477.12,783.54 478.6,794.09 480.29,813.09 482.19,823.64 484.3,825.75 487.04,826.81 490.21,825.75 493.38,821.53 496.54,818.36 499.71,815.2 502.88,817.31 506.04,819.42 509.21,820.47 512.37,819.42 515.54,818.36 518.71,817.31 521.87,818.36 525.04,819.42 528.21,821.53 531.37,823.64 534.54,825.75 537.7,826.81 540.87,826.81 544.04,824.7 547.2,821.53 550.37,818.36 553.54,815.2 557.34,814.14"/>
<polyline stroke="#0000ff" points="110.7,797.26 112.39,795.15 114.5,791.98 116.61,800.42 118.72,803.59 120.83,800.42 123.58,798.31 126.11,804.64 128.22,808.87 130.33,810.98 132.44,806.75 134.13,802.53 136.24,808.87 138.35,815.2 140.88,815.2 142.99,818.36 146.16,813.09 149.33,810.98 152.49,813.09 154.6,812.03 156.72,817.31 158.83,821.53 160.94,821.53 164.1,817.31 167.27,815.2 169.38,817.31 171.49,810.98 173.6,800.42 176.77,791.98 179.3,781.42 181.41,785.65 183.52,790.92 185.63,783.54 187.74,777.2 189.85,772.98 191.54,758.21 192.81,724.43 194.08,692.77 195.13,675.88 196.19,682.22 197.24,724.43 198.3,766.65 199.56,787.76 202.1,789.87 205.26,794.09 208.43,790.92 211.6,794.09 214.76,797.26 217.93,790.92 221.09,789.87 224.26,787.76 227.43,785.65 230.59,783.54 233.34,781.42 234.82,756.09 236.29,713.88 237.98,682.22 239.46,688.55 240.73,724.43 242.2,753.98 244.31,766.65 247.48,768.76 250.65,766.65 253.81,764.54 255.92,766.65 257.4,787.76 258.67,825.75 260,785.65 263.17,787.76 266.33,789.87 269.5,794.09 272.66,798.31 275.83,801.48 277.94,787.76 279.42,780.37 281.11,791.98 283.22,800.42 286.39,796.2 289.55,804.64 292.72,807.81 295.88,804.64 299.05,804.64 302.22,806.75 305.38,810.98 307.49,818.36 310.66,820.47 313.83,817.31 316.99,810.98 320.16,804.64 323.32,796.2 325.86,791.98 328.6,800.42 331.77,800.42 334.93,791.98 337.04,800.42 339.16,813.09 341.27,821.53 343.38,825.75 345.49,821.53 347.6,798.31 349.71,775.09 351.82,764.54 353.93,770.87 356.04,787.76 358.15,808.87 360.26,825.75 363.43,826.81 366.6,825.75 369.76,815.2 372.93,802.53 376.09,796.2 379.26,791.98 381.37,783.54 383.48,770.87 384.96,766.65 386.65,777.2 388.76,791.98 390.87,802.53 392.98,787.76 394.67,741.32 396.15,703.32 397.63,671.66 399.31,649.5 400.79,671.66 402.48,724.43 404.59,758.21 406.7,775.09 408.81,789.87 410.92,795.15 413.03,785.65 415.15,781.42 417.26,787.76 420,789.87 420.55,791.98 423.72,789.87 426.89,785.65 430.05,775.09 432.8,762.43 434.91,741.32 436.39,713.88 437.86,699.1 439.55,696.99 441.24,720.21 442.72,734.99 444.83,720.21 446.94,696.99 448.63,703.32 450.53,728.65 452.64,743.43 454.75,724.43 456.44,703.32 458.13,711.77 459.6,741.32 461.29,762.43 463.83,766.65 465.94,770.87 468.05,787.76 470.16,804.64 471.85,813.09 473.32,779.31 475.01,730.77 476.49,699.1 477.97,688.55 479.23,703.32 480.71,756.09 482.19,798.31 483.88,821.53 485.57,825.75 488.1,826.81 490.21,823.64 492.74,815.2 495.49,808.87 498.23,804.64 500.77,806.75 503.93,808.87 507.1,808.87 510.26,806.75 513.43,804.64 516.6,800.42 518.71,797.26 520.82,802.53 523.98,808.87 527.15,815.2 529.26,823.64 532.43,825.75 535.59,825.75 538.76,823.64 541.93,817.31 545.09,813.09 548.26,806.75 551.42,800.42 554.59,796.2 557.34,794.09"/>
</g>
<rect x="110.8" y="468.7" width="446.5" height="360.6" fill="none" stroke="#000" stroke-width="2.4"/>
<path d="M110.8,829.3v7.09 M170.33,829.3v7.09 M229.87,829.3v7.09 M289.4,829.3v7.09 M348.93,829.3v7.09 M408.47,829.3v7.09 M468,829.3v7.09 M527.53,829.3v7.09 M140.57,829.3v3.85 M200.1,829.3v3.85 M259.63,829.3v3.85 M319.17,829.3v3.85 M378.7,829.3v3.85 M438.23,829.3v3.85 M497.77,829.3v3.85 M557.3,829.3v3.85 M110.8,829.3h-7.09 M110.8,769.2h-7.09 M110.8,709.1h-7.09 M110.8,649h-7.09 M110.8,588.9h-7.09 M110.8,528.8h-7.09 M110.8,468.7h-7.09 M110.8,799.25h-3.85 M110.8,739.15h-3.85 M110.8,679.05h-3.85 M110.8,618.95h-3.85 M110.8,558.85h-3.85 M110.8,498.75h-3.85" stroke="#000" stroke-width="2.4" fill="none"/>
<text transform="translate(110.8,855.95) scale(1.02,1)" font-size="20.5" text-anchor="middle" stroke="#000" stroke-width="1.1">200</text>
<text transform="translate(170.33,855.95) scale(1.02,1)" font-size="20.5" text-anchor="middle" stroke="#000" stroke-width="1.1">400</text>
<text transform="translate(229.87,855.95) scale(1.02,1)" font-size="20.5" text-anchor="middle" stroke="#000" stroke-width="1.1">600</text>
<text transform="translate(289.4,855.95) scale(1.02,1)" font-size="20.5" text-anchor="middle" stroke="#000" stroke-width="1.1">800</text>
<text transform="translate(348.93,855.95) scale(1.02,1)" font-size="20.5" text-anchor="middle" stroke="#000" stroke-width="1.1">1000</text>
<text transform="translate(408.47,855.95) scale(1.02,1)" font-size="20.5" text-anchor="middle" stroke="#000" stroke-width="1.1">1200</text>
<text transform="translate(468,855.95) scale(1.02,1)" font-size="20.5" text-anchor="middle" stroke="#000" stroke-width="1.1">1400</text>
<text transform="translate(527.53,855.95) scale(1.02,1)" font-size="20.5" text-anchor="middle" stroke="#000" stroke-width="1.1">1600</text>
<text transform="translate(99.05,833.76) scale(1.02,1)" font-size="20.5" text-anchor="end" stroke="#000" stroke-width="1.1">0</text>
<text transform="translate(99.05,773.66) scale(1.02,1)" font-size="20.5" text-anchor="end" stroke="#000" stroke-width="1.1">500</text>
<text transform="translate(99.05,713.56) scale(1.02,1)" font-size="20.5" text-anchor="end" stroke="#000" stroke-width="1.1">1000</text>
<text transform="translate(99.05,653.46) scale(1.02,1)" font-size="20.5" text-anchor="end" stroke="#000" stroke-width="1.1">1500</text>
<text transform="translate(99.05,593.36) scale(1.02,1)" font-size="20.5" text-anchor="end" stroke="#000" stroke-width="1.1">2000</text>
<text transform="translate(99.05,533.26) scale(1.02,1)" font-size="20.5" text-anchor="end" stroke="#000" stroke-width="1.1">2500</text>
<text transform="translate(99.05,473.16) scale(1.02,1)" font-size="20.5" text-anchor="end" stroke="#000" stroke-width="1.1">3000</text>
<g transform="translate(215.78,904.6) scale(0.9741,1)" stroke="#000" stroke-width="0.8"><text x="0" y="0" font-size="27.91">Raman shift (cm</text><text x="217.66" y="-15.63" font-size="16.19">-1</text><text x="232.05" y="0" font-size="27.91">)</text></g>
<g transform="translate(24.2,768.5) rotate(-90) scale(0.9603,1)" stroke="#000" stroke-width="0.8"><text x="-1.96" y="0" font-size="29.33">Intensity (counts)</text></g>
<text transform="translate(5.38,455.3) scale(0.9288,1)" font-size="42.15">D</text>
<rect x="852" y="482" width="179.8" height="104.6" fill="none" stroke="#333" stroke-width="1.3"/>
<line x1="860.7" y1="506" x2="899.3" y2="506" stroke="#000" stroke-width="3.2" stroke-linecap="round"/>
<line x1="860.7" y1="540.3" x2="899.3" y2="540.3" stroke="#ff0000" stroke-width="3.2" stroke-linecap="round"/>
<line x1="860.7" y1="574.6" x2="899.3" y2="574.6" stroke="#0000ff" stroke-width="3.2" stroke-linecap="round"/>
<text transform="translate(905.72,511.25) scale(1.0682,1)" font-size="25.28">0.005 mM</text>
<text transform="translate(905.72,544.65) scale(1.0682,1)" font-size="25.28">0.05 mM</text>
<text transform="translate(905.72,578.65) scale(1.0682,1)" font-size="25.28">0.1 mM</text>
<text transform="translate(753.53,583.7) scale(1.0655,1)" font-size="27.5" stroke="#000" stroke-width="0.9">3x10</text>
<text transform="translate(820.58,571.6) scale(1.0710,1)" font-size="19.63" stroke="#000" stroke-width="0.8">16</text>
<g clip-path="url(#clipE)" fill="none" stroke-width="3.6" stroke-linejoin="round" stroke-linecap="round">
<polyline stroke="#ff0000" points="691.63,841.12 695.05,837.1 697.06,825.02 699.07,818.99 701.09,827.04 703.1,823.01 706.12,812.95 708.13,804.9 710.75,802.89 713.16,810.94 715.17,812.95 717.19,800.87 719.2,794.84 721.21,791.82 723.22,796.85 725.24,806.91 727.25,812.95 730.27,804.9 733.29,800.87 735.3,798.86 737.31,808.92 740.33,818.99 743.35,821 745.76,814.96 747.78,802.89 749.79,800.87 751.4,808.92 753.41,814.96 756.43,821 758.44,825.02 760.46,821 762.47,827.04 764.48,823.01 766.49,821 768.51,827.04 771.52,825.02 773.54,831.06 776.56,829.05 778.57,827.04 780.58,833.07 783.6,837.1 786.62,835.09 789.64,837.1 791.65,827.04 793.66,816.97 795.67,812.95 797.69,814.96 799.7,821 801.71,816.97 803.72,812.95 805.74,810.94 807.75,812.95 809.76,804.9 811.77,788.8 813.79,768.67 814.99,750.56 816.2,760.62 817.41,784.77 818.82,816.97 820.83,833.07 822.84,829.05 825.86,825.02 828.88,821 831.9,818.99 834.92,821 837.94,818.99 840.95,816.97 842.97,812.95 844.98,821 845.51,821.81 848.55,824.15 851.36,824.15 853.7,817.13 856.04,793.74 858.37,770.35 861.18,760.99 863.52,770.35 865.39,784.39 867.73,798.42 870.54,803.1 872.88,812.46 875.92,803.1 878.96,798.42 881.3,796.08 882.94,828.83 884.57,840.53 886.44,835.85 888.78,817.13 891.12,817.13 893.46,821.81 896.27,817.13 899.31,810.12 901.65,812.46 904.69,807.78 907.5,810.12 909.84,828.83 912.18,821.81 914.98,817.13 918.02,821.81 921.53,824.15 925.04,824.15 928.55,821.81 930.89,831.17 933.23,835.85 935.57,826.49 937.91,824.15 940.25,831.17 943.75,833.51 946.8,828.83 949.6,831.17 953.11,826.49 956.62,819.47 959.43,812.46 962.47,817.13 965.98,824.15 969.49,807.78 971.82,814.8 974.16,828.83 977.2,835.85 980.01,833.51 982.35,826.49 985.16,807.78 988.2,793.74 991.71,784.39 994.05,789.06 996.39,803.1 998.73,817.13 1000.2,825.41 1003.4,835.02 1006.61,831.82 1009.81,822.21 1013.01,812.6 1016.21,815.8 1019.42,809.4 1022.62,802.99 1025.82,806.2 1029.02,819.01 1032.23,831.82 1035.43,812.6 1037.99,774.17 1040.23,738.95 1041.83,734.14 1043.76,748.55 1046,780.58 1048.24,806.2 1051.44,819.01 1054.64,828.61 1058.49,835.02 1062.65,838.22 1066.81,841.42 1070.66,831.82 1073.86,815.8 1077.7,802.99 1080.9,793.39 1084.11,774.17 1087.31,770.97 1090.51,770.97 1093.71,764.56 1096.28,758.16 1098.84,767.77 1102.04,777.37 1105.24,767.77 1108.13,762.96 1110.69,774.17 1113.89,793.39 1117.09,806.2 1120.29,812.6 1122.86,799.79 1125.74,761.36 1128.3,735.74 1130.22,729.34 1132.14,754.96 1134.71,806.2 1137.91,835.02 1141.11,838.22 1144.31,831.82 1146.55,828.61"/>
<polyline stroke="#000" points="691.63,841.12 697.06,840.72 701.09,839.11 705.11,838.1 708.13,837.1 711.15,835.09 714.17,833.07 717.19,832.07 720.21,831.06 722.22,833.07 724.23,837.1 727.25,839.11 730.27,837.1 733.29,835.09 735.3,833.07 737.31,837.1 740.33,840.12 743.35,841.12 747.37,841.12 751.4,840.72 755.42,841.12 759.45,840.12 763.47,841.12 767.5,840.72 771.52,841.12 775.55,840.12 779.57,839.11 783.6,840.12 787.62,841.12 791.65,840.12 794.67,837.1 796.68,833.07 798.69,837.1 800.7,841.12 803.72,842.13 806.74,837.1 809.76,825.02 811.77,812.95 813.79,804.9 815.4,800.87 816.8,812.95 818.21,833.07 819.82,841.12 821.84,837.1 824.85,835.09 827.87,837.1 830.89,836.09 833.91,837.1 836.93,835.09 839.95,831.06 842.97,827.04 844.98,825.02 845.51,824.15 849.02,828.83 852.53,835.85 854.87,828.83 857.2,812.46 859.54,798.42 861.88,789.06 863.52,784.39 865.39,793.74 867.73,812.46 870.07,821.81 873.58,826.49 876.62,826.49 879.43,821.81 882.23,817.13 884.11,824.15 886.44,821.81 888.78,817.13 891.12,812.46 893.46,810.12 895.33,814.8 897.67,807.78 900.01,800.76 901.65,798.42 903.29,807.78 905.16,812.46 907.96,814.8 911.01,814.8 913.35,812.46 916.39,810.12 919.19,814.8 922,819.47 925.04,821.81 928.55,819.47 932.06,817.13 934.4,814.8 936.74,812.46 939.78,814.8 942.58,819.47 946.09,819.47 949.13,817.13 951.47,824.15 953.81,831.17 956.15,838.19 958.49,840.53 961.3,838.19 964.11,833.51 967.15,828.83 970.19,826.49 972.99,825.32 976.5,826.49 979.54,824.15 982.35,819.47 985.16,803.1 988.2,789.06 991.24,779.71 993.58,772.69 995.92,782.05 998.26,805.44 1000.2,802.99 1003.4,831.82 1006.61,831.82 1009.81,822.21 1013.01,812.6 1016.21,806.2 1019.42,812.6 1022.62,809.4 1025.82,809.4 1029.02,819.01 1032.23,831.82 1034.79,825.41 1037.03,796.59 1039.59,774.17 1041.83,764.56 1044.4,767.77 1046.64,780.58 1049.84,799.79 1053.04,806.2 1056.25,812.6 1059.45,822.21 1062.65,828.61 1065.85,835.02 1069.06,839.82 1072.26,831.82 1075.46,819.01 1078.66,806.2 1081.87,796.59 1085.07,796.59 1088.27,799.79 1091.47,790.18 1094.68,767.77 1096.92,758.16 1098.84,764.56 1101.08,780.58 1103.64,786.98 1105.88,770.97 1108.13,767.77 1110.69,780.58 1113.25,786.98 1116.13,790.18 1118.69,796.59 1121.9,822.21 1124.46,835.02 1126.7,812.6 1128.94,790.18 1130.86,780.58 1133.1,793.39 1135.35,819.01 1137.91,838.22 1141.11,839.82 1144.31,835.02 1146.55,831.82"/>
<polyline stroke="#0000ff" points="691.63,841.12 695.05,840.12 698.07,833.07 700.08,825.02 703.1,821 705.11,825.02 707.12,833.07 709.14,831.06 711.15,829.05 713.16,828.04 715.17,825.02 717.19,814.96 719.2,806.91 722.22,798.86 724.23,794.84 726.24,798.86 728.26,810.94 730.27,818.99 732.28,821 734.29,812.95 736.31,810.94 738.32,818.99 741.34,827.04 744.36,833.07 747.37,831.06 750.39,825.02 752.41,821 754.42,829.05 756.43,839.11 758.44,837.1 760.46,829.05 762.47,835.09 764.48,841.12 767.5,840.12 771.52,841.12 775.55,840.12 779.57,839.11 782.59,835.09 785.61,837.1 788.63,840.12 791.65,837.1 793.66,829.05 795.67,818.99 797.69,814.96 799.7,821 801.31,833.07 803.32,841.12 805.74,837.1 807.75,816.97 809.76,790.81 811.37,750.56 812.78,704.27 814.19,680.12 815.8,674.09 817.41,690.19 818.82,720.37 820.23,770.69 821.43,810.94 822.84,818.99 824.85,814.96 827.87,812.95 830.89,809.93 833.91,808.92 836.93,804.9 839.95,796.85 841.96,788.8 843.97,782.76 844.34,782.05 846.68,784.39 850.19,789.06 853.7,793.74 856.04,775.03 858.37,735.26 860.71,688.48 863.05,658.07 864.46,653.39 866.09,676.78 867.73,718.89 870.07,751.64 872.41,775.03 874.75,782.05 877.09,775.03 879.43,763.33 881.77,756.32 883.64,770.35 884.81,819.47 885.98,817.13 887.61,751.64 889.95,746.96 892.29,745.79 894.63,753.98 896.97,765.67 898.61,749.3 900.48,749.3 902.35,770.35 903.99,798.42 905.63,828.83 907.5,840.53 909.37,835.85 911.01,793.74 912.64,765.67 914.98,760.99 917.32,753.98 919.19,760.99 921.53,779.71 923.87,784.39 927.38,782.05 930.89,777.37 934.4,770.35 936.04,768.01 937.91,772.69 940.25,770.35 942.58,775.03 946.09,779.71 949.13,779.71 951.94,789.06 954.28,798.42 956.62,805.44 958.49,812.46 960.83,803.1 963.17,793.74 965.98,784.39 968.32,777.37 970.65,772.69 972.53,777.37 974.87,789.06 977.2,789.06 980.01,791.4 981.88,782.05 984.22,746.96 986.56,711.87 988.9,676.78 991.24,660.41 993.58,662.75 995.92,688.48 998.26,728.25 999.56,742.15 1001.8,783.78 1005.01,809.4 1007.25,812.6 1010.45,786.98 1013.65,761.36 1016.86,751.75 1019.42,758.16 1022.62,748.55 1025.82,724.53 1028.06,735.74 1030.63,767.77 1033.83,786.98 1036.07,774.17 1038.63,710.12 1040.87,630.06 1042.8,569.21 1044.4,562.81 1046,598.04 1047.6,646.07 1049.84,694.11 1053.04,732.54 1056.25,748.55 1059.45,758.16 1062.65,780.58 1065.85,799.79 1069.06,815.8 1072.26,809.4 1075.46,780.58 1078.66,748.55 1081.87,710.12 1084.11,678.1 1086.67,660.48 1088.91,671.69 1090.83,700.52 1093.07,687.71 1095.32,646.07 1097.24,618.85 1099.48,630.06 1101.08,678.1 1103.32,684.5 1105.88,646.07 1108.13,639.67 1110.37,662.09 1112.29,694.11 1115.49,710.12 1118.05,719.73 1120.29,758.16 1122.54,806.2 1125.1,774.17 1127.66,694.11 1129.9,633.26 1131.5,626.86 1134.07,678.1 1136.63,742.15 1139.51,799.79 1142.71,806.2 1146.55,780.58"/>
</g>
<rect x="691.7" y="472.4" width="454.8" height="370.3" fill="none" stroke="#000" stroke-width="2.4"/>
<path d="M691.7,842.7v7.29 M752.34,842.7v7.29 M812.98,842.7v7.29 M873.62,842.7v7.29 M934.26,842.7v7.29 M994.9,842.7v7.29 M1055.54,842.7v7.29 M1116.18,842.7v7.29 M722.02,842.7v3.95 M782.66,842.7v3.95 M843.3,842.7v3.95 M903.94,842.7v3.95 M964.58,842.7v3.95 M1025.22,842.7v3.95 M1085.86,842.7v3.95 M1146.5,842.7v3.95 M691.7,842.7h-7.29 M691.7,780.98h-7.29 M691.7,719.27h-7.29 M691.7,657.55h-7.29 M691.7,595.83h-7.29 M691.7,534.12h-7.29 M691.7,472.4h-7.29 M691.7,811.84h-3.95 M691.7,750.12h-3.95 M691.7,688.41h-3.95 M691.7,626.69h-3.95 M691.7,564.98h-3.95 M691.7,503.26h-3.95" stroke="#000" stroke-width="2.4" fill="none"/>
<text transform="translate(691.7,870.07) scale(1.02,1)" font-size="21" text-anchor="middle" stroke="#000" stroke-width="1.1">200</text>
<text transform="translate(752.34,870.07) scale(1.02,1)" font-size="21" text-anchor="middle" stroke="#000" stroke-width="1.1">400</text>
<text transform="translate(812.98,870.07) scale(1.02,1)" font-size="21" text-anchor="middle" stroke="#000" stroke-width="1.1">600</text>
<text transform="translate(873.62,870.07) scale(1.02,1)" font-size="21" text-anchor="middle" stroke="#000" stroke-width="1.1">800</text>
<text transform="translate(934.26,870.07) scale(1.02,1)" font-size="21" text-anchor="middle" stroke="#000" stroke-width="1.1">1000</text>
<text transform="translate(994.9,870.07) scale(1.02,1)" font-size="21" text-anchor="middle" stroke="#000" stroke-width="1.1">1200</text>
<text transform="translate(1055.54,870.07) scale(1.02,1)" font-size="21" text-anchor="middle" stroke="#000" stroke-width="1.1">1400</text>
<text transform="translate(1116.18,870.07) scale(1.02,1)" font-size="21" text-anchor="middle" stroke="#000" stroke-width="1.1">1600</text>
<text transform="translate(679.64,847.3) scale(1.02,1)" font-size="21" text-anchor="end" stroke="#000" stroke-width="1.1">0</text>
<text transform="translate(679.64,785.58) scale(1.02,1)" font-size="21" text-anchor="end" stroke="#000" stroke-width="1.1">500</text>
<text transform="translate(679.64,723.86) scale(1.02,1)" font-size="21" text-anchor="end" stroke="#000" stroke-width="1.1">1000</text>
<text transform="translate(679.64,662.15) scale(1.02,1)" font-size="21" text-anchor="end" stroke="#000" stroke-width="1.1">1500</text>
<text transform="translate(679.64,600.43) scale(1.02,1)" font-size="21" text-anchor="end" stroke="#000" stroke-width="1.1">2000</text>
<text transform="translate(679.64,538.71) scale(1.02,1)" font-size="21" text-anchor="end" stroke="#000" stroke-width="1.1">2500</text>
<text transform="translate(679.64,477) scale(1.02,1)" font-size="21" text-anchor="end" stroke="#000" stroke-width="1.1">3000</text>
<g transform="translate(802.31,912) scale(0.9793,1)" stroke="#000" stroke-width="0.8"><text x="0" y="0" font-size="27.33">Raman shift (cm</text><text x="213.12" y="-15.3" font-size="15.85">-1</text><text x="227.21" y="0" font-size="27.33">)</text></g>
<g transform="translate(606.2,775.5) rotate(-90) scale(0.9437,1)" stroke="#000" stroke-width="0.8"><text x="-1.96" y="0" font-size="29.33">Intensity (counts)</text></g>
<text transform="translate(579.62,455.2) scale(0.9230,1)" font-size="41.72">E</text>
<rect x="1431.1" y="487.4" width="182.4" height="106.1" fill="none" stroke="#333" stroke-width="1.3"/>
<line x1="1440.2" y1="512.2" x2="1479.3" y2="512.2" stroke="#000" stroke-width="3.2" stroke-linecap="round"/>
<line x1="1440.2" y1="547.7" x2="1479.3" y2="547.7" stroke="#ff0000" stroke-width="3.2" stroke-linecap="round"/>
<line x1="1440.2" y1="582" x2="1479.3" y2="582" stroke="#0000ff" stroke-width="3.2" stroke-linecap="round"/>
<text transform="translate(1486.62,517.85) scale(1.0709,1)" font-size="25.28">0.005 mM</text>
<text transform="translate(1486.62,552.15) scale(1.0709,1)" font-size="25.28">0.05 mM</text>
<text transform="translate(1486.62,586.35) scale(1.0709,1)" font-size="25.28">0.1 mM</text>
<text transform="translate(1332.37,593.22) scale(1.0496,1)" font-size="27.68" stroke="#000" stroke-width="0.9">1x10</text>
<text transform="translate(1399.8,580.41) scale(1.0820,1)" font-size="19.07" stroke="#000" stroke-width="0.8">16</text>
<g clip-path="url(#clipF)" fill="none" stroke-width="3.6" stroke-linejoin="round" stroke-linecap="round">
<polyline stroke="#ff0000" points="1277.33,820.87 1280.88,824.2 1285.32,825.31 1289.75,825.31 1294.19,826.42 1298.63,825.31 1303.07,824.2 1307.51,825.31 1311.95,827.53 1316.39,827.53 1319.71,825.31 1323.04,823.75 1327.48,823.09 1331.92,820.87 1336.36,818.65 1340.8,817.54 1345.24,815.32 1349.67,812.66 1354.11,810.88 1358.55,811.33 1362.99,811.99 1367.43,811.99 1371.87,810.88 1375.2,807.55 1378.52,805.34 1382.96,804.23 1386.29,803.78 1389.18,803.12 1391.84,806.44 1394.06,808.66 1397.39,807.55 1401.83,805.34 1405.16,805.34 1409.59,803.12 1414.03,799.79 1418.47,798.68 1422.91,796.46 1427,795.35 1430.33,793.13 1433.66,792.02 1436.99,792.02 1440.32,793.57 1443.64,795.35 1446.97,798.68 1451.41,803.12 1455.85,807.55 1460.29,811.99 1464.73,817.54 1469.17,823.09 1473.6,828.64 1478.04,832.63 1481.37,834.63 1484.7,835.3 1489.14,834.19 1493.58,832.63 1498.02,831.3 1502.45,828.64 1506.89,824.2 1510.22,817.54 1513.55,808.66 1516.88,799.79 1520.21,788.69 1523.54,778.7 1526.87,770.94 1530.2,764.28 1533.52,755.4 1536.85,748.74 1540.18,742.09 1543.51,738.09 1546.84,737.65 1550.17,739.87 1553.5,744.31 1556.83,753.18 1560.16,764.28 1563.48,777.59 1566.81,790.91 1570.14,799.79 1573.47,805.34 1576.8,809.77 1580.13,813.1 1582,812.66 1585.33,815.77 1589.77,816.43 1594.21,818.65 1598.64,820.2 1603.08,820.87 1607.52,823.09 1611.96,827.53 1616.4,831.97 1620.84,834.19 1625.28,836.4 1629.71,837.07 1634.15,835.74 1638.59,833.08 1643.03,831.3 1647.47,830.41 1651.91,826.86 1656.35,826.42 1660.78,825.97 1665.22,825.97 1669.66,828.19 1674.1,828.64 1678.54,828.64 1682.98,828.64 1687.42,828.64 1691.85,829.08 1695.18,831.97 1698.51,836.4 1701.84,838.18 1706.28,839.73 1710.72,840.4 1715.16,840.4 1719.59,840.4 1724.03,840.4"/>
<polyline stroke="#000" points="1277.33,836.4 1280.88,837.96 1285.32,839.29 1289.75,839.73 1294.19,839.29 1298.63,838.62 1303.07,837.96 1307.51,837.07 1311.95,836.4 1316.39,835.96 1320.82,835.3 1325.26,836.4 1329.7,837.51 1334.14,837.51 1338.58,837.07 1343.02,835.3 1347.45,833.52 1351.89,832.63 1356.33,832.19 1360.77,832.19 1365.21,830.86 1369.65,831.3 1374.09,830.41 1378.52,829.75 1382.96,829.75 1387.4,829.75 1391.84,830.41 1396.28,830.86 1400.72,830.86 1405.16,830.41 1409.59,829.08 1414.03,827.53 1418.47,826.42 1422.91,825.75 1427,826.42 1430.33,825.31 1433.66,824.64 1436.99,825.31 1440.32,826.86 1443.64,828.64 1446.97,830.41 1451.41,830.41 1455.85,831.3 1460.29,832.63 1464.73,833.52 1469.17,834.85 1472.49,834.85 1475.82,833.52 1480.26,832.63 1484.7,830.41 1489.14,829.08 1493.58,827.53 1498.02,824.64 1502.45,821.98 1506.89,818.65 1511.33,814.21 1515.77,809.77 1520.21,804.23 1524.65,798.68 1529.09,793.13 1533.52,788.69 1537.96,785.36 1541.29,782.03 1544.62,780.92 1547.95,781.37 1551.28,780.92 1554.61,783.14 1557.94,786.47 1561.27,790.91 1564.59,795.35 1567.92,802.01 1571.25,807.55 1575.69,811.99 1580.13,815.32 1582,818.65 1585.33,820.87 1589.77,823.75 1594.21,824.64 1598.64,825.97 1603.08,826.86 1607.52,828.19 1611.96,830.86 1616.4,833.08 1620.84,834.85 1625.28,835.74 1629.71,834.41 1634.15,833.52 1638.59,833.96 1643.03,833.52 1647.47,835.3 1651.91,835.74 1656.35,836.18 1660.78,835.74 1665.22,835.3 1669.66,834.85 1672.99,835.74 1676.32,837.51 1680.76,838.62 1685.2,839.29 1689.63,839.73 1694.07,839.73 1698.51,839.29 1702.95,838.62 1707.39,839.29 1711.83,838.62 1716.27,837.96 1720.7,838.85 1724.03,839.29"/>
<polyline stroke="#0000ff" points="1277.33,837.51 1280.88,839.29 1285.32,840.4 1289.75,840.4 1294.19,839.73 1298.63,838.62 1303.07,837.51 1307.51,835.3 1311.95,834.19 1316.39,832.63 1320.82,830.86 1325.26,831.3 1329.7,829.75 1334.14,827.53 1338.58,825.31 1341.91,821.98 1345.24,818.65 1349.67,816.43 1354.11,814.88 1358.55,814.21 1361.88,813.1 1365.21,809.77 1369.65,806.89 1374.09,806 1378.52,806.44 1382.96,807.55 1387.4,808.66 1391.84,810.44 1395.17,807.55 1398.5,806 1402.94,804.23 1406.27,802.01 1409.59,798.68 1414.03,795.35 1418.47,790.91 1421.8,786.47 1425.13,784.25 1427,784.25 1430.33,780.92 1433.66,777.59 1436.99,778.04 1440.32,782.03 1443.64,786.47 1446.97,789.8 1451.41,793.13 1455.85,796.46 1460.29,798.01 1464.73,800.9 1469.17,805.34 1473.6,809.11 1478.04,811.99 1481.37,814.21 1484.7,811.99 1488.03,810.88 1491.36,812.66 1494.69,810.88 1498.02,806.89 1501.35,802.01 1504.67,794.24 1508,784.25 1511.33,773.16 1514.66,763.17 1517.99,750.96 1521.32,737.65 1524.65,723.22 1527.98,708.8 1531.31,695.48 1534.63,683.28 1537.96,673.29 1541.29,665.52 1544.62,661.75 1547.95,661.75 1551.28,664.41 1554.61,671.07 1557.94,684.39 1561.27,702.14 1564.59,719.89 1567.92,735.43 1571.25,748.74 1574.58,759.84 1577.91,767.61 1581.24,772.05 1582,769.83 1585.33,774.27 1588.66,780.92 1591.99,783.14 1595.32,786.47 1599.75,790.47 1604.19,793.13 1608.63,797.57 1613.07,803.12 1617.51,804.23 1621.95,806.44 1625.28,806.89 1628.6,804.67 1633.04,803.12 1637.48,803.12 1641.92,802.01 1646.36,801.56 1650.8,800.9 1656.35,799.34 1660.78,795.35 1664.11,793.57 1667.44,792.69 1670.77,794.24 1675.21,797.57 1679.65,800.23 1684.09,803.12 1687.42,804.67 1691.85,804.23 1696.29,803.78 1700.73,803.12 1704.06,802.01 1708.5,802.45 1712.94,801.56 1716.27,800.23 1719.59,802.01 1724.03,803.78"/>
</g>
<rect x="1277.3" y="480.5" width="446.7" height="360.3" fill="none" stroke="#000" stroke-width="2.4"/>
<path d="M1277.3,840.8v7.09 M1388.97,840.8v7.09 M1500.65,840.8v7.09 M1612.33,840.8v7.09 M1724,840.8v7.09 M1333.14,840.8v3.85 M1444.81,840.8v3.85 M1556.49,840.8v3.85 M1668.16,840.8v3.85 M1277.3,840.8h-7.09 M1277.3,780.75h-7.09 M1277.3,720.7h-7.09 M1277.3,660.65h-7.09 M1277.3,600.6h-7.09 M1277.3,540.55h-7.09 M1277.3,480.5h-7.09 M1277.3,810.77h-3.85 M1277.3,750.72h-3.85 M1277.3,690.67h-3.85 M1277.3,630.62h-3.85 M1277.3,570.58h-3.85 M1277.3,510.53h-3.85" stroke="#000" stroke-width="2.4" fill="none"/>
<text transform="translate(1277.3,867.43) scale(1.02,1)" font-size="20.5" text-anchor="middle" stroke="#000" stroke-width="1.1">1050</text>
<text transform="translate(1388.97,867.43) scale(1.02,1)" font-size="20.5" text-anchor="middle" stroke="#000" stroke-width="1.1">1100</text>
<text transform="translate(1500.65,867.43) scale(1.02,1)" font-size="20.5" text-anchor="middle" stroke="#000" stroke-width="1.1">1150</text>
<text transform="translate(1612.33,867.43) scale(1.02,1)" font-size="20.5" text-anchor="middle" stroke="#000" stroke-width="1.1">1200</text>
<text transform="translate(1724,867.43) scale(1.02,1)" font-size="20.5" text-anchor="middle" stroke="#000" stroke-width="1.1">1250</text>
<text transform="translate(1265.56,845.26) scale(1.02,1)" font-size="20.5" text-anchor="end" stroke="#000" stroke-width="1.1">0</text>
<text transform="translate(1265.56,785.21) scale(1.02,1)" font-size="20.5" text-anchor="end" stroke="#000" stroke-width="1.1">500</text>
<text transform="translate(1265.56,725.16) scale(1.02,1)" font-size="20.5" text-anchor="end" stroke="#000" stroke-width="1.1">1000</text>
<text transform="translate(1265.56,665.11) scale(1.02,1)" font-size="20.5" text-anchor="end" stroke="#000" stroke-width="1.1">1500</text>
<text transform="translate(1265.56,605.06) scale(1.02,1)" font-size="20.5" text-anchor="end" stroke="#000" stroke-width="1.1">2000</text>
<text transform="translate(1265.56,545.01) scale(1.02,1)" font-size="20.5" text-anchor="end" stroke="#000" stroke-width="1.1">2500</text>
<text transform="translate(1265.56,484.96) scale(1.02,1)" font-size="20.5" text-anchor="end" stroke="#000" stroke-width="1.1">3000</text>
<g transform="translate(1382.28,916.3) scale(0.9944,1)" stroke="#000" stroke-width="0.8"><text x="0" y="0" font-size="27.33">Raman shift (cm</text><text x="213.12" y="-15.3" font-size="15.85">-1</text><text x="227.21" y="0" font-size="27.33">)</text></g>
<g transform="translate(1190.7,780.3) rotate(-90) scale(0.9658,1)" stroke="#000" stroke-width="0.8"><text x="-1.96" y="0" font-size="29.18">Intensity (counts)</text></g>
<text transform="translate(1155.85,455.3) scale(0.9094,1)" font-size="41.86">F</text>
</svg></body></html>
